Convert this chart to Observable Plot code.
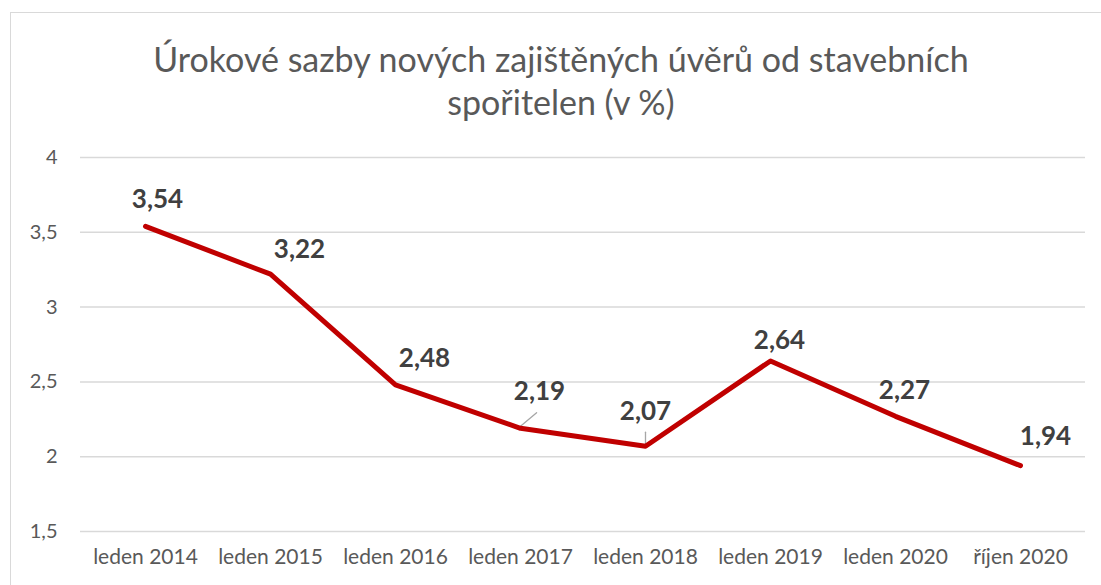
<!DOCTYPE html>
<html>
<head>
<meta charset="utf-8">
<script src="https://cdn.jsdelivr.net/npm/d3@7"></script>
<script src="https://cdn.jsdelivr.net/npm/@observablehq/plot@0.6"></script>
<style>
  html, body { margin: 0; padding: 0; background: #fff; }
  #frame { position: absolute; left: 10px; top: 12px; width: 1200px; height: 700px;
           border-top: 1.5px solid #d9d9d9; border-left: 1.5px solid #d9d9d9; }
  #title { position: absolute; left: 0; top: 37px; width: 1122px; text-align: center;
           font-family: Lato, "Open Sans", sans-serif; font-size: 34px; font-weight: 400; line-height: 43px; color: #595959; }
  #chart { position: absolute; left: 0; top: 140px; }
</style>
</head>
<body>
<div id="frame"></div>
<div id="title">Úrokové sazby nových zajištěných úvěrů od stavebních<br>spořitelen (v %)</div>
<div id="chart"></div>
<script>
const categories = ["leden 2014", "leden 2015", "leden 2016", "leden 2017", "leden 2018", "leden 2019", "leden 2020", "říjen 2020"];
const rates = [3.54, 3.22, 2.48, 2.19, 2.07, 2.64, 2.27, 1.94];
const yTicks = [1.5, 2, 2.5, 3, 3.5, 4];

// label nudges (layout only), in pixels
const labelDx = [12, 29, 29, 19, 0, 9, 9, 25];
const labelDy = [-27, -25, -26, -37, -35, -20, -26, -29];

const data = categories.map((c, i) => ({cat: c, v: rates[i]}));
const fmt = v => v.toFixed(2).replace(".", ",");
const fmtTick = v => String(v).replace(".", ",");

const leaders = [
  {cat: categories[3], v: rates[3], len: 21, rot: 50},
  {cat: categories[4], v: rates[4], len: 12, rot: 0}
];

const textMarks = data.map((d, i) => Plot.text([d], {
  x: "cat", y: "v", text: dd => fmt(dd.v),
  dx: labelDx[i], dy: labelDy[i],
  fontSize: 26, fontWeight: "bold", fill: "#404040",
  fontFamily: "Lato, 'Open Sans', sans-serif"
}));

const chart = Plot.plot({
  width: 1101,
  height: 445,
  marginTop: 17,
  marginBottom: 54,
  marginLeft: 80,
  marginRight: 16,
  style: {fontFamily: "Lato, 'Open Sans', sans-serif", background: "transparent"},
  x: {type: "point", domain: categories, padding: 0.5, label: null},
  y: {domain: [1.5, 4], label: null},
  length: {type: "identity"},
  marks: [
    Plot.ruleY(yTicks, {stroke: "#d9d9d9", strokeWidth: 1.5}),
    Plot.axisY(yTicks, {tickSize: 0, tickPadding: 23, tickFormat: fmtTick, fontSize: 20, fill: "#595959", label: null, textAnchor: "end"}),
    Plot.axisX(categories, {tickSize: 0, tickPadding: 18, fontSize: 21, fill: "#595959", label: null}),
    Plot.vector(leaders, {
      x: "cat", y: "v", length: "len", rotate: "rot", anchor: "start",
      stroke: "#a6a6a6", strokeWidth: 1.3, dy: -2,
      shape: {draw(ctx, l) { ctx.moveTo(0, 0); ctx.lineTo(0, -l); }}
    }),
    Plot.line(data, {x: "cat", y: "v", stroke: "#c00000", strokeWidth: 5, strokeLinejoin: "round", strokeLinecap: "round"}),
    ...textMarks
  ]
});
document.getElementById("chart").appendChild(chart);
</script>
</body>
</html>
